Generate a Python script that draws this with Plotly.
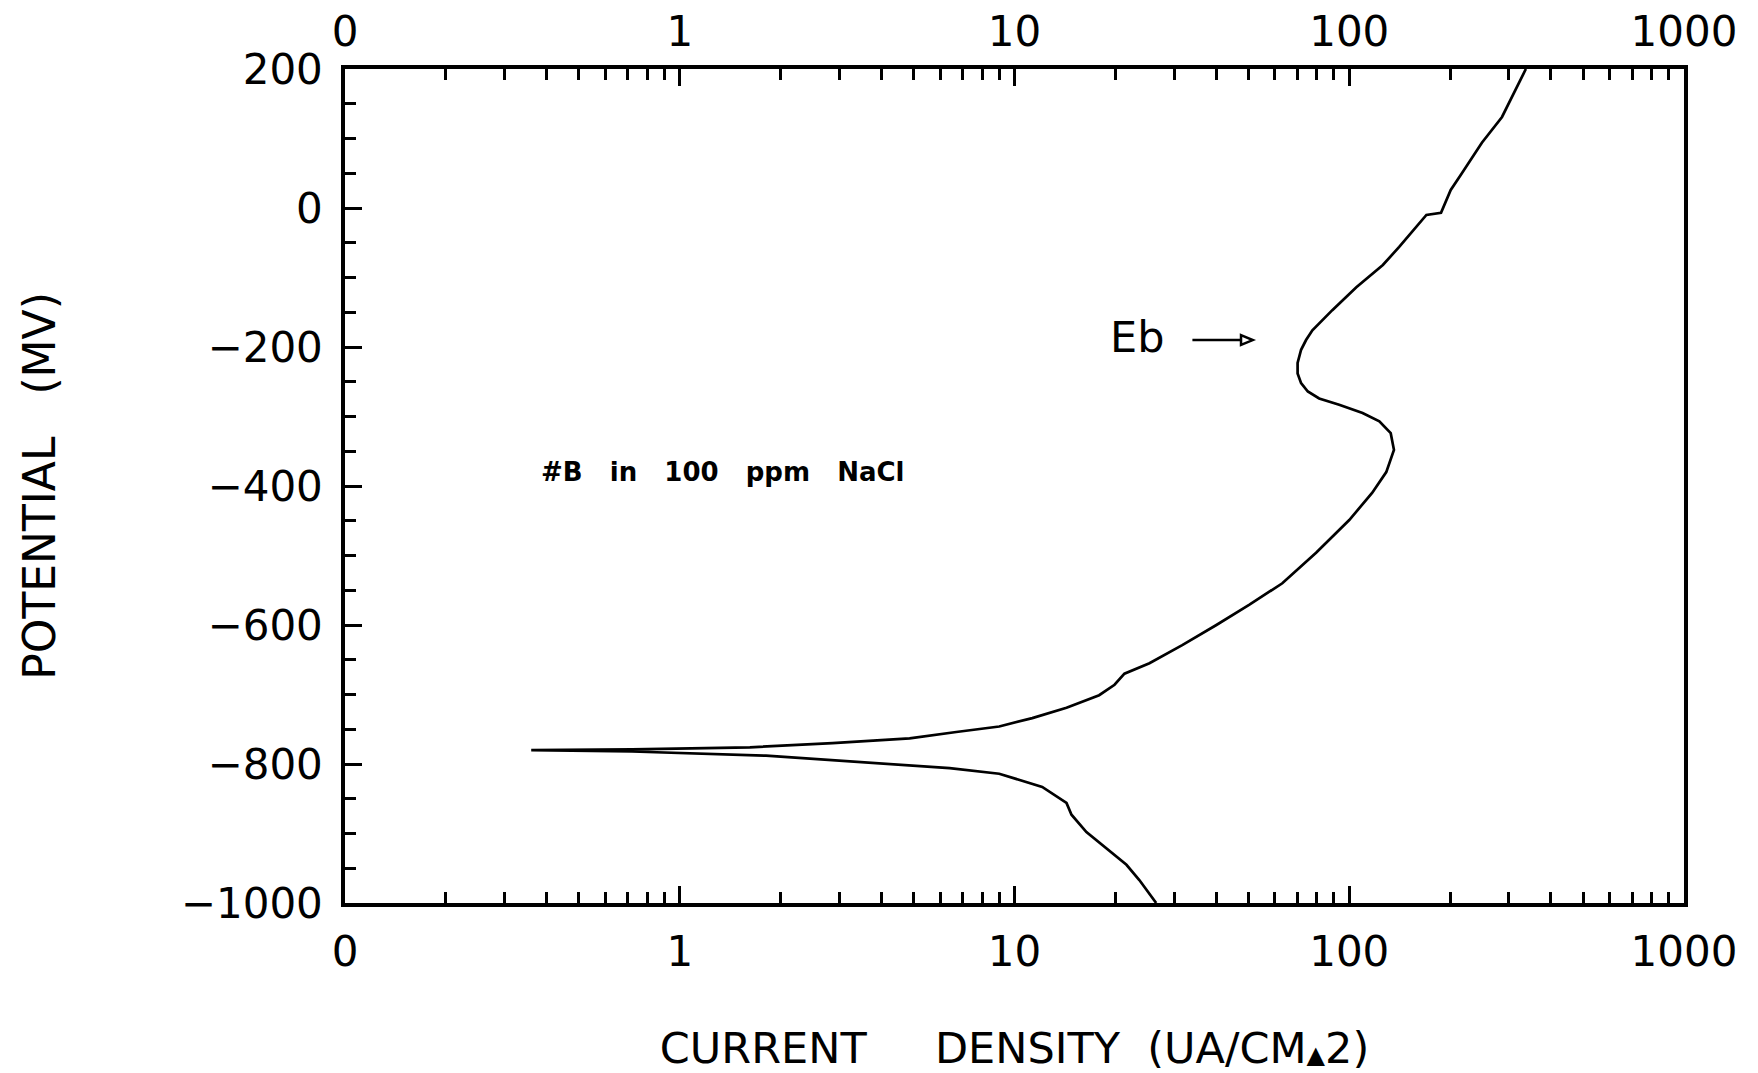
import numpy as np
import plotly.graph_objects as go

# ---- data (current density in uA/cm^2, potential in mV) ----
cathodic_i = [26.5, 23.6, 21.6, 16.4, 14.8, 14.3, 12.1, 9.0, 6.4, 4.54, 2.86, 1.81, 0.72, 0.36]
cathodic_E = [-1000, -967, -945, -898, -873, -856, -833, -814, -806, -801, -794, -788, -782, -780]

anodic_i = [0.36, 0.72, 1.62, 2.86, 4.86, 6.7, 9.0, 11.3, 14.3, 17.9, 19.9, 21.3, 25.3, 31.7,
            40.1, 50.2, 63.1, 79.6, 100, 117, 129, 136, 133, 123, 109.6, 93.3, 81.3, 75.2,
            71.8, 70.1, 70.1, 71.8, 74.3, 77.6, 81.3, 89.0, 105, 126, 141, 170, 188, 201,
            217, 249, 286, 337]
anodic_E = [-780, -779, -776, -770, -763, -754, -746, -734, -719, -701, -686, -670, -655, -629,
            -600, -571, -540, -496, -449, -410, -380, -348, -324, -307, -295, -283, -274, -264,
            -252, -238, -223, -204, -190, -176, -166, -147, -114, -82, -56, -10, -7, 26,
            50, 94, 131, 200]

x_tickvals = [0.1, 1, 10, 100, 1000]
x_ticktext = ["0", "1", "10", "100", "1000"]
x_minor = [m * 10.0 ** k for k in range(-1, 3) for m in range(2, 10)]
y_tickvals = [200, 0, -200, -400, -600, -800, -1000]
y_ticktext = ["200", "0", "\u2212200", "\u2212400", "\u2212600", "\u2212800", "\u22121000"]
y_minor = list(range(-1000, 201, 50))

curve_i = cathodic_i + anodic_i[1:]
curve_E = cathodic_E + anodic_E[1:]

FONT = "DejaVu Sans"
NB = "\u00a0"
fig = go.Figure()
fig.add_trace(go.Scatter(x=curve_i, y=curve_E, mode="lines",
                         line=dict(color="black", width=2.7), showlegend=False,
                         hoverinfo="skip"))
# invisible copy bound to the top axis so it is drawn
fig.add_trace(go.Scatter(x=curve_i, y=curve_E, mode="lines", xaxis="x2",
                         line=dict(color="rgba(0,0,0,0)", width=0), showlegend=False,
                         hoverinfo="skip"))

axis_common = dict(type="log", range=[-1, 3], tickmode="array", tickvals=x_tickvals,
                   ticktext=x_ticktext, ticks="inside", ticklen=17, tickwidth=3,
                   tickcolor="black", showline=True, linecolor="black", linewidth=3.5,
                   showgrid=False, zeroline=False, automargin=False,
                   tickfont=dict(family=FONT, size=42, color="black"),
                   minor=dict(tickmode="array", tickvals=x_minor, ticks="inside",
                              ticklen=11, tickwidth=3, tickcolor="black", showgrid=False))

xtitle = ("CURRENT" + NB * 5 + "DENSITY" + NB * 2 +
          "(UA/CM<span style='font-size:24px'>\u25b2</span>2)")

fig.update_layout(
    width=1758, height=1073, autosize=False,
    margin=dict(l=345, r=74, t=69, b=170),
    paper_bgcolor="white", plot_bgcolor="white",
    font=dict(family=FONT, color="black"),
    xaxis=dict(**axis_common,
               title=dict(text=xtitle, font=dict(family=FONT, size=43, color="black"),
                          standoff=59),
               ticklabelstandoff=9),
    xaxis2=dict(**axis_common, overlaying="x", side="top", anchor="y",
                ticklabelstandoff=2),
    yaxis=dict(range=[-1000, 200], tickmode="array", tickvals=y_tickvals,
               ticktext=y_ticktext, ticks="inside", ticklen=17, tickwidth=3,
               tickcolor="black", showline=True, linecolor="black", linewidth=3.5,
               mirror=True, showgrid=False, zeroline=False, automargin=False,
               tickfont=dict(family=FONT, size=42, color="black"),
               ticklabelstandoff=10,
               minor=dict(tickmode="array", tickvals=y_minor, ticks="inside",
                          ticklen=11, tickwidth=3, tickcolor="black", showgrid=False),
               title=dict(text="POTENTIAL" + NB * 3 + "(MV)",
                          font=dict(family=FONT, size=44, color="black"), standoff=112)),
)

fig.add_annotation(x=np.log10(0.38), y=-380, xref="x", yref="y",
                   text=(NB * 3).join(["#B", "in", "100", "ppm", "NaCl"]),
                   showarrow=False, xanchor="left", yanchor="middle",
                   font=dict(family=FONT, size=26, color="black", weight="bold"))
fig.add_annotation(x=np.log10(19.0), y=-186, xref="x", yref="y", text="Eb",
                   showarrow=False, xanchor="left", yanchor="middle",
                   font=dict(family=FONT, size=43, color="black"))
# arrow: shaft + hollow head
fig.add_shape(type="line", xref="x", yref="y", x0=34, x1=47.5, y0=-190, y1=-190,
              line=dict(color="black", width=2.5))
fig.add_shape(type="path", xref="x", yref="y",
              path="M 47.5,-183 L 51.5,-190 L 47.5,-197 Z",
              line=dict(color="black", width=2.5), fillcolor="white")

fig.write_html("out.html")
